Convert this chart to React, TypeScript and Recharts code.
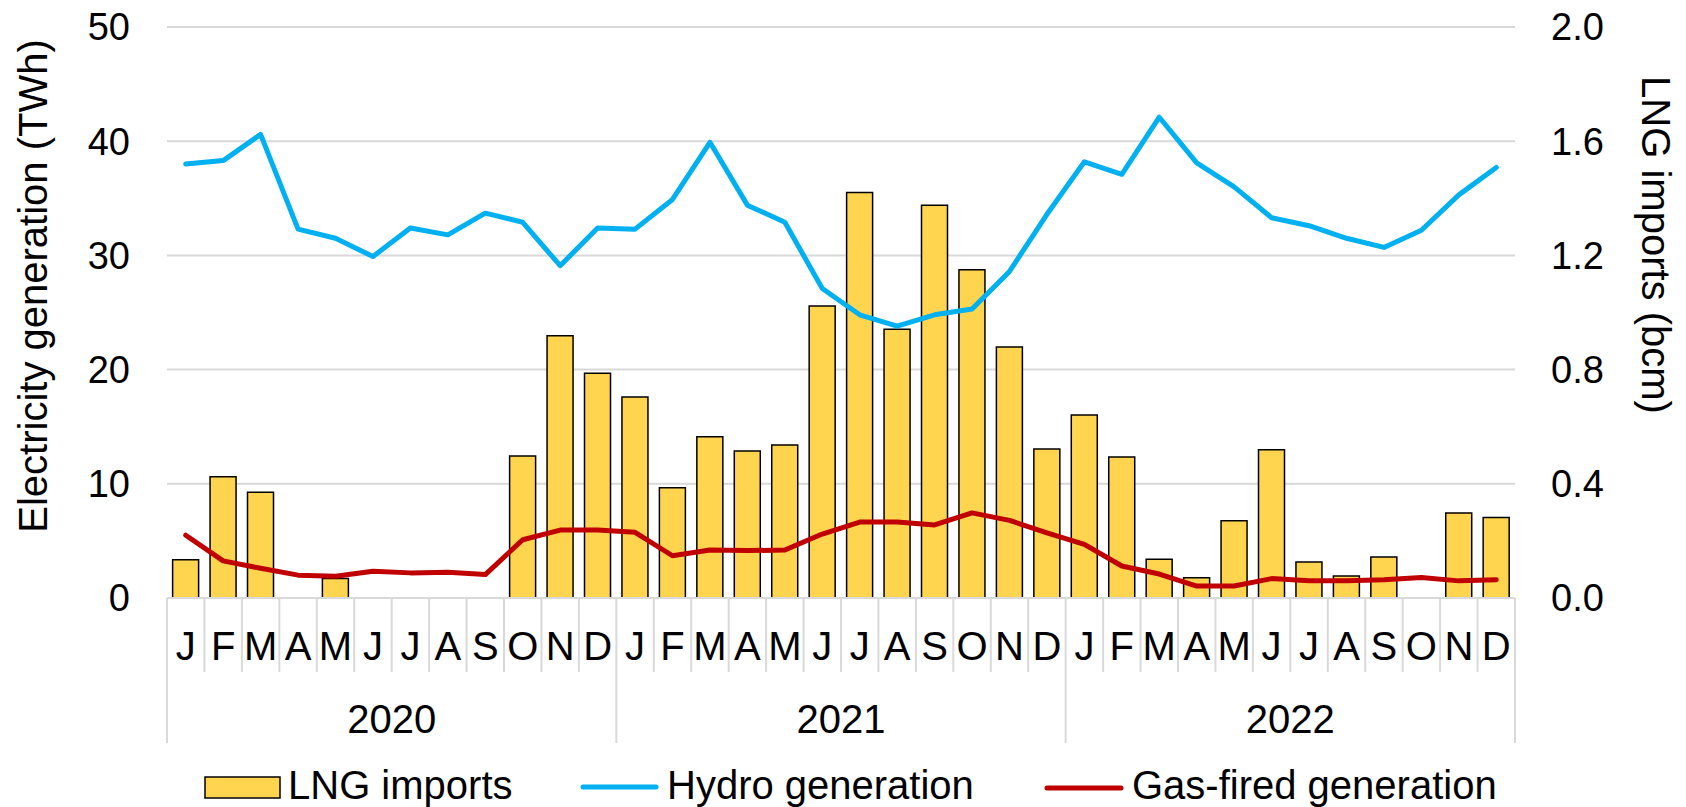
import React from 'react';
import { ComposedChart, Bar, Line, XAxis, YAxis, CartesianGrid, Label } from 'recharts';

const monthLabels = ['J', 'F', 'M', 'A', 'M', 'J', 'J', 'A', 'S', 'O', 'N', 'D'];
const years = ['2020', '2021', '2022'];

// Hydro generation (TWh)
const hydroGeneration = [
  38.0, 38.3, 40.6, 32.3, 31.5, 29.9, 32.4, 31.8, 33.7, 32.9, 29.1, 32.4,
  32.3, 34.9, 39.9, 34.4, 32.9, 27.1, 24.8, 23.8, 24.8, 25.3, 28.6, 33.6,
  38.2, 37.1, 42.1, 38.1, 36.0, 33.3, 32.6, 31.5, 30.7, 32.2, 35.3, 37.7,
];

// Gas-fired generation (TWh)
const gasFiredGeneration = [
  5.5, 3.25, 2.6, 2.0, 1.9, 2.35, 2.2, 2.25, 2.05, 5.1, 5.95, 5.95,
  5.75, 3.7, 4.2, 4.15, 4.2, 5.6, 6.65, 6.65, 6.4, 7.45, 6.8, 5.7,
  4.7, 2.8, 2.1, 1.05, 1.05, 1.7, 1.5, 1.5, 1.6, 1.8, 1.5, 1.6,
];

// LNG imports (bcm)
const lngImports = [
  0.134, 0.425, 0.37, 0, 0.068, 0, 0, 0, 0, 0.497, 0.919, 0.787,
  0.704, 0.386, 0.565, 0.515, 0.536, 1.023, 1.42, 0.941, 1.376, 1.15, 0.879, 0.522,
  0.641, 0.494, 0.136, 0.071, 0.271, 0.519, 0.126, 0.077, 0.144, 0, 0.298, 0.282,
];

const leftTicks = [0, 10, 20, 30, 40, 50];
const rightTicks = [0, 0.4, 0.8, 1.2, 1.6, 2.0];

const data = years.flatMap((year, yi) =>
  monthLabels.map((month, mi) => {
    const i = yi * 12 + mi;
    return {
      period: `${year}-${mi + 1}`,
      month,
      year,
      hydro: hydroGeneration[i],
      gas: gasFiredGeneration[i],
      lng: lngImports[i],
    };
  })
);

const W = 1686;
const H = 807;
const PLOT_LEFT = 167;
const PLOT_RIGHT = 1515;
const PLOT_TOP = 27;
const PLOT_BOTTOM = 598;
const BW = (PLOT_RIGHT - PLOT_LEFT) / data.length;
const FONT = '"Liberation Sans", Arial, sans-serif';
const GRID = '#d9d9d9';
const YELLOW = '#FFD44F';
const BLUE = '#00B0F0';
const RED = '#C00000';

const MonthTick = (props: any) => {
  const { x, y, index } = props;
  const d = data[index];
  if (!d) return null;
  const left = x - BW / 2;
  const yearStart = index % 12 === 0;
  const last = index === data.length - 1;
  return (
    <g>
      <line x1={left} x2={left} y1={y} y2={yearStart ? y + 145 : y + 74} stroke={GRID} strokeWidth={2} />
      {last && <line x1={x + BW / 2} x2={x + BW / 2} y1={y} y2={y + 145} stroke={GRID} strokeWidth={2} />}
      <text x={x} y={y + 62} textAnchor="middle" fontSize={40} fill="#000" fontFamily={FONT}>
        {d.month}
      </text>
      {yearStart && (
        <text x={left + 6 * BW} y={y + 135} textAnchor="middle" fontSize={40} fill="#000" fontFamily={FONT}>
          {d.year}
        </text>
      )}
    </g>
  );
};

export default function App() {
  return (
    <div style={{ position: 'fixed', left: 0, top: 0, width: W, height: H, background: '#fff' }}>
      <ComposedChart
        width={W}
        height={H}
        data={data}
        margin={{ top: PLOT_TOP, right: 0, bottom: 0, left: 0 }}
        barCategoryGap="15%"
      >
        <CartesianGrid yAxisId="left" vertical={false} stroke={GRID} strokeWidth={2} />
        <XAxis
          dataKey="period"
          height={H - PLOT_BOTTOM}
          interval={0}
          tickLine={false}
          tickSize={0}
          tickMargin={0}
          axisLine={{ stroke: GRID, strokeWidth: 2 }}
          tick={(p: any) => <MonthTick {...p} />}
        />
        <YAxis
          yAxisId="left"
          orientation="left"
          width={PLOT_LEFT}
          domain={[0, 50]}
          ticks={leftTicks}
          axisLine={false}
          tickLine={false}
          tickSize={0}
          tickMargin={37}
          tick={{ fontSize: 38, fill: '#000', fontFamily: FONT }}
        >
          <Label
            content={() => (
              <text
                transform={`translate(47, 286) rotate(-90)`}
                textAnchor="middle"
                fontSize={40}
                fill="#000"
                fontFamily={FONT}
              >
                Electricity generation (TWh)
              </text>
            )}
          />
        </YAxis>
        <YAxis
          yAxisId="right"
          orientation="right"
          width={W - PLOT_RIGHT}
          domain={[0, 2]}
          ticks={rightTicks}
          axisLine={false}
          tickLine={false}
          tickSize={0}
          tickMargin={36}
          tickFormatter={(v: number) => v.toFixed(1)}
          tick={{ fontSize: 38, fill: '#000', fontFamily: FONT }}
        >
          <Label
            content={() => (
              <text
                transform={`translate(1642, 245) rotate(90)`}
                textAnchor="middle"
                fontSize={40}
                fill="#000"
                fontFamily={FONT}
              >
                LNG imports (bcm)
              </text>
            )}
          />
        </YAxis>
        <Bar
          yAxisId="right"
          dataKey="lng"
          name="LNG imports"
          fill={YELLOW}
          stroke="#000"
          strokeWidth={1.5}
          isAnimationActive={false}
        />
        <Line
          yAxisId="left"
          type="linear"
          dataKey="hydro"
          name="Hydro generation"
          stroke={BLUE}
          strokeWidth={5}
          strokeLinecap="round"
          strokeLinejoin="round"
          dot={false}
          activeDot={false}
          isAnimationActive={false}
        />
        <Line
          yAxisId="left"
          type="linear"
          dataKey="gas"
          name="Gas-fired generation"
          stroke={RED}
          strokeWidth={5}
          strokeLinecap="round"
          strokeLinejoin="round"
          dot={false}
          activeDot={false}
          isAnimationActive={false}
        />
      </ComposedChart>
      <svg
        width={W}
        height={60}
        style={{ position: 'absolute', left: 0, top: 750 }}
        fontFamily={FONT}
      >
        <rect x={205} y={27} width={75} height={21} fill={YELLOW} stroke="#000" strokeWidth={1.5} />
        <text x={288} y={49} fontSize={40} fill="#000">LNG imports</text>
        <line x1={583} x2={656} y1={37} y2={37} stroke={BLUE} strokeWidth={5} strokeLinecap="round" />
        <text x={667} y={49} fontSize={40} fill="#000">Hydro generation</text>
        <line x1={1047} x2={1121} y1={38} y2={38} stroke={RED} strokeWidth={5} strokeLinecap="round" />
        <text x={1132} y={49} fontSize={40} fill="#000">Gas-fired generation</text>
      </svg>
    </div>
  );
}
